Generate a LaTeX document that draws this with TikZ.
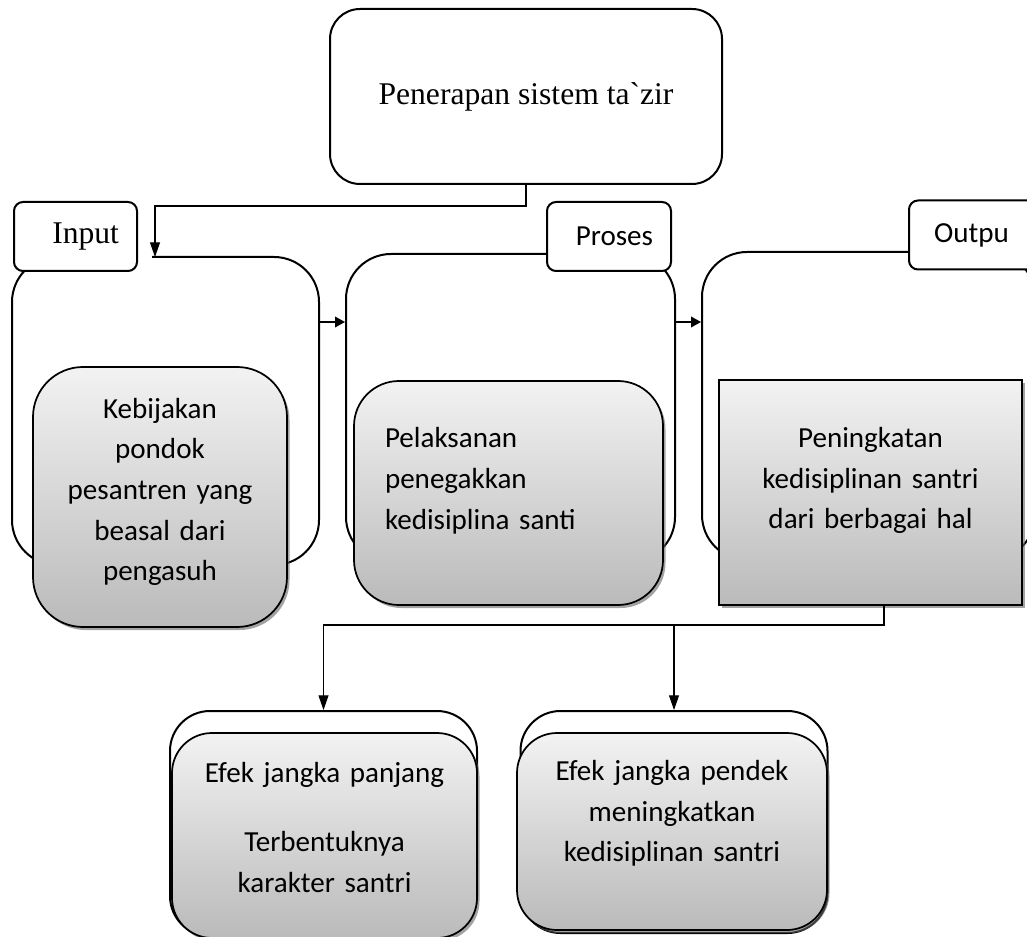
\documentclass[tikz,border=0pt]{standalone}
\usepackage{fontspec}
\setmainfont{Carlito}
\newfontfamily\timesfont{Liberation Serif}
\usetikzlibrary{arrows.meta}
\usetikzlibrary{shadows}
\newlength{\px}
\setlength{\px}{0.75pt}
\newcommand{\isifont}{\fontsize{21.8}{30.5}\selectfont}
\newcommand{\judulfont}{\timesfont\fontsize{23.7}{28}\selectfont}
\newcommand{\turun}[1]{\rule[-#1\px]{0pt}{0pt}}

\begin{document}
\begin{tikzpicture}[x=0.75pt, y=-0.75pt,
	wadah/.style={draw, line width=1.5pt, rounded corners=45\px, inner sep=0pt},
	judul/.style={draw, line width=1.5pt, fill=white, rounded corners=9\px, minimum height=69\px, inner xsep=18\px, inner ysep=0pt, align=right},
	isi/.style={draw, line width=1.3pt, top color=black!5, bottom color=black!27, rounded corners=45\px, drop shadow={shadow xshift=2.5\px, shadow yshift=-3\px, fill=black!60, opacity=.6}, inner sep=0pt, align=center, font=\isifont},
	belakang/.style={draw, line width=1.5pt, fill=white, rounded corners=40\px, inner sep=0pt},
	garis/.style={line width=0.8pt},
	panah/.style={garis, -{Triangle[width=7.5pt,length=11pt]}},
	panahtebal/.style={line width=1.1pt, -{Triangle[width=8pt,length=7.5pt]}}]
	\useasboundingbox (0,0) rectangle (1027,937);
	\clip (0,0) rectangle (1027,937);
	% atas
	\node[draw, line width=1.5pt, rounded corners=30\px, minimum width=392\px, minimum height=175\px, font=\judulfont] (tazir) at (526,96.5) {Penerapan sistem ta\textasciigrave zir};
	% bingkai
	\draw[wadah] (152,257) -- (319,257) -- (319,565) -- (12,565) -- (12,257) -- (90,257);
	\coordinate (masuk) at (155,257);
	\coordinate (w1) at (319,322);
	\node[wadah, minimum width=329\px, minimum height=308\px] (wadah2) at (510.5,408) {};
	\node[wadah, minimum width=333\px, minimum height=308\px] (wadah3) at (868.5,406) {};
	\node[judul, font=\judulfont, text width=87\px] (input) at (75.5,236.5) {Input};
	\node[judul, font=\isifont, text width=88\px] (proses) at (609,236.5) {Proses};
	\node[judul, font=\isifont, align=left, inner xsep=25\px, text width=86\px] (output) at (977,235) {Outpu};
	% isi
	\node[isi, rounded corners=50\px, minimum width=254\px, minimum height=260\px, text width=254\px] (kebijakan) at (160,497) {Kebijakan\\ pondok\\ pesantren yang\\ beasal dari\\ pengasuh\turun{15}};
	\node[isi, minimum width=309\px, minimum height=224\px, text width=247\px, align=left] (pelaksanaan) at (508.5,493) {Pelaksanan\\ penegakkan\\ kedisiplina santi\turun{29}};
	\node[isi, sharp corners, minimum width=303\px, minimum height=225\px, text width=303\px] (hasil) at (870.5,492.5) {Peningkatan\\ kedisiplinan santri\\ dari berbagai hal\turun{29}};
	% efek
	\node[belakang, minimum width=307\px, minimum height=225\px] (efek1b) at (323.5,823.5) {};
	\node[isi, rounded corners=40\px, minimum width=305\px, minimum height=205\px, text width=305\px] (efek1) at (324.5,835.5) {Efek jangka panjang\\[28\px] Terbentuknya\\ karakter santri\turun{16}};
	\node[belakang, minimum width=307\px, minimum height=222\px] (efek2b) at (674,822) {};
	\node[isi, rounded corners=40\px, minimum width=310\px, minimum height=197\px, text width=310\px] (efek2) at (672,831.5) {Efek jangka pendek\\ meningkatkan\\ kedisiplinan santri\turun{41}};
	% panah
	\draw[panah] (tazir.south) -- ++(0,21) -| (masuk);
	\draw[panahtebal] (w1) -- (w1 -| wadah2.west);
	\draw[panahtebal] (w1 -| wadah2.east) -- (w1 -| wadah3.west);
	\coordinate (cabang) at (884,625);
	\draw[panah] (cabang |- hasil.south) -- (cabang) -| (efek1b.north);
	\draw[panah] (cabang -| efek2b.north) -- (efek2b.north);
\end{tikzpicture}
\end{document}
